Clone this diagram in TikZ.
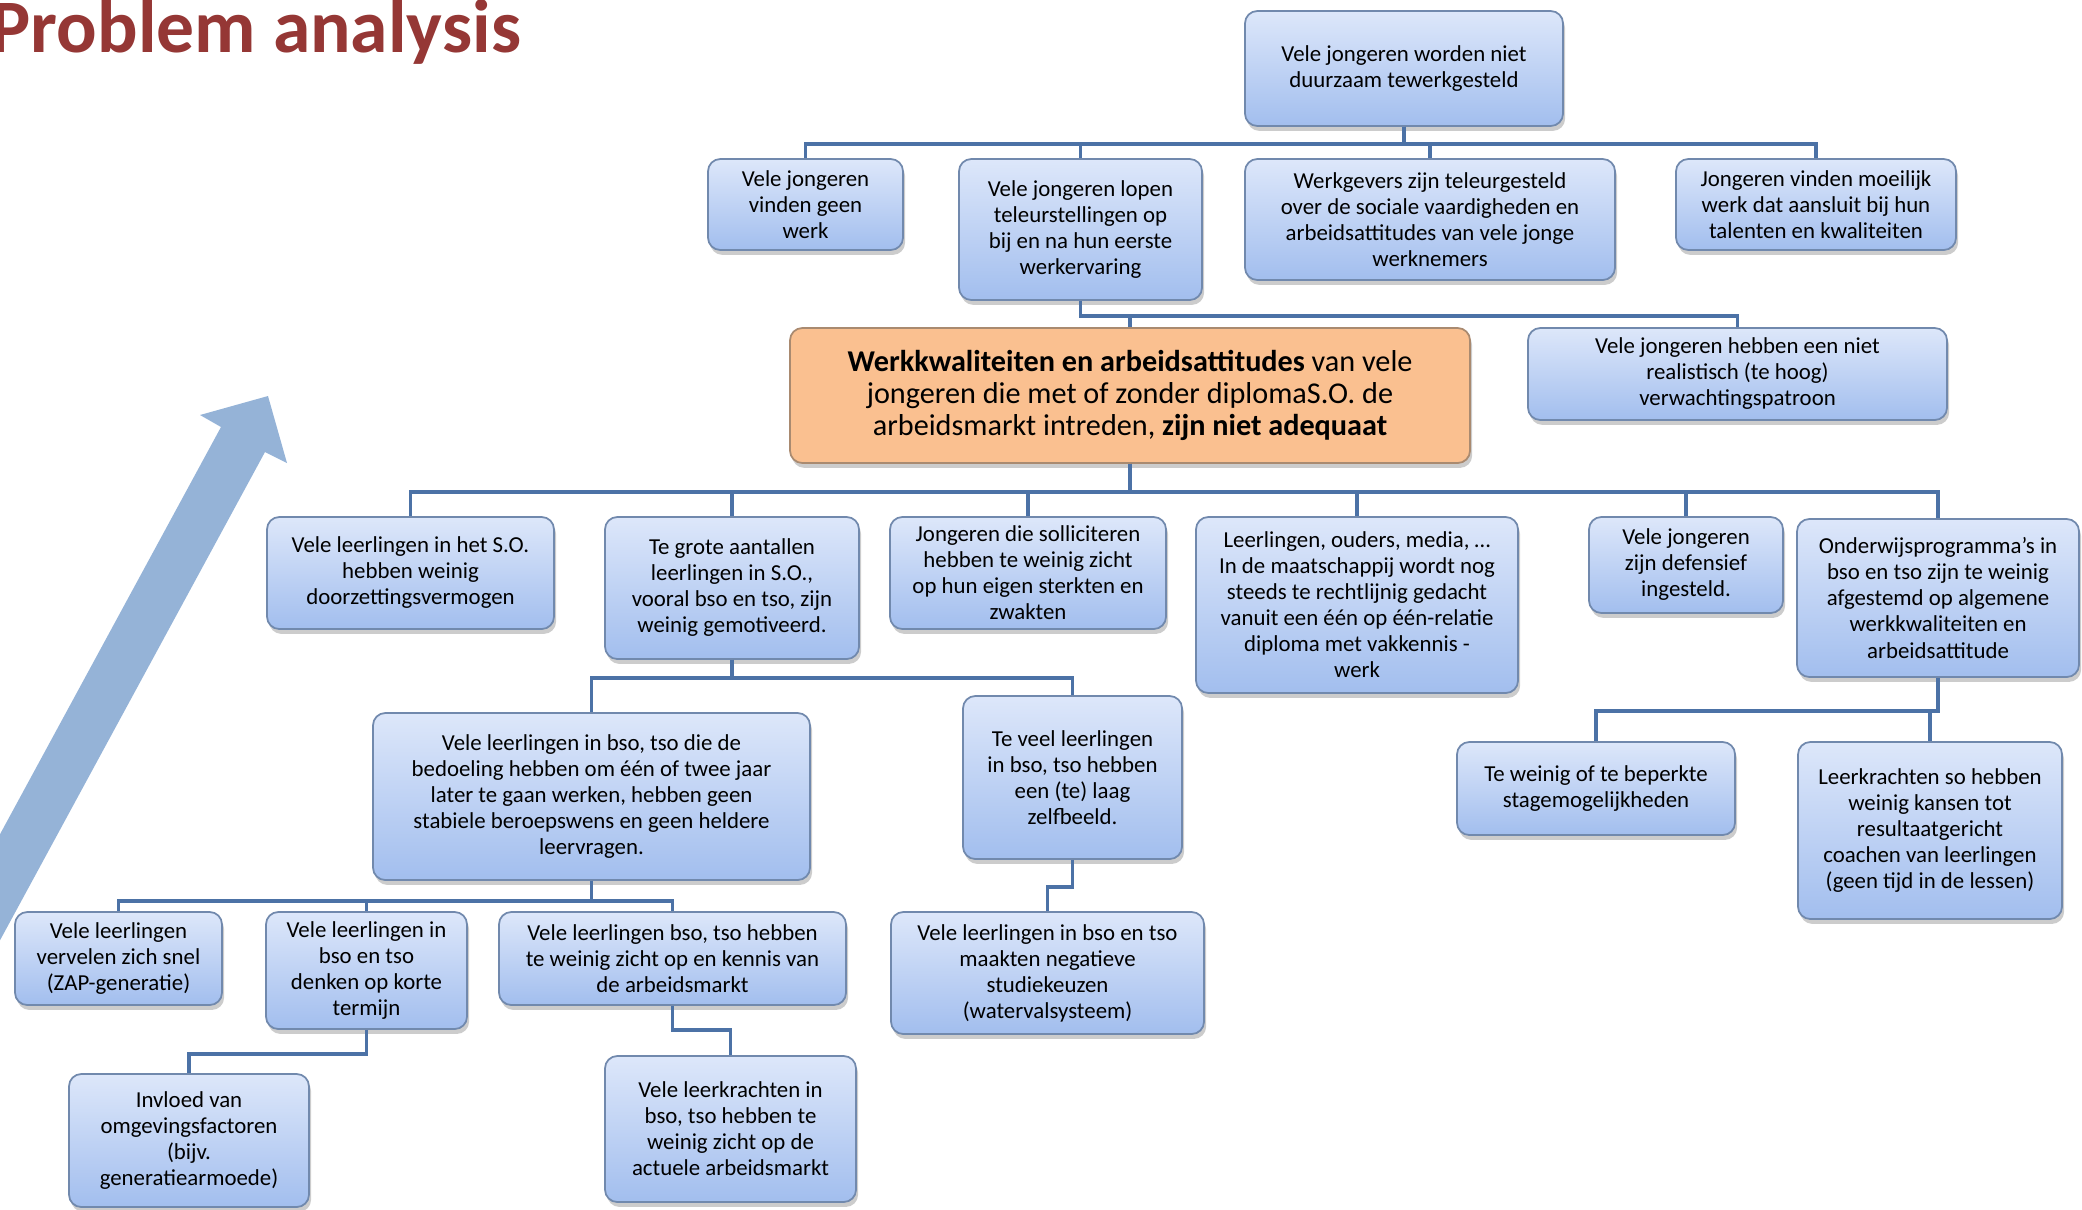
\documentclass[tikz,border=0pt]{standalone}
\usepackage{fontspec}
\setmainfont{Carlito}
\usetikzlibrary{shadows}
\definecolor{titlered}{HTML}{953735}
\definecolor{boxtop}{HTML}{DDE7FA}
\definecolor{boxbot}{HTML}{A2BEEE}
\definecolor{boxline}{HTML}{7189AD}
\definecolor{coreorange}{HTML}{FAC090}
\definecolor{coreline}{HTML}{A98A70}
\definecolor{linkblue}{HTML}{4C72A6}
\definecolor{arrowblue}{HTML}{95B3D7}
\tikzset{
  box/.style={rounded corners=3.5pt, draw=boxline, line width=0.5pt, top color=boxtop, bottom color=boxbot,
    align=center, inner sep=1pt, font=\fontsize{6.5}{7.4}\selectfont,
    drop shadow={shadow xshift=0.6pt, shadow yshift=-1.4pt, opacity=0.4}},
  core/.style={box, top color=coreorange, bottom color=coreorange, draw=coreline, font=\fontsize{8.6}{9.1}\selectfont},
  dims/.style 2 args={minimum width=#1cm, minimum height=#2cm},
  link/.style={draw=linkblue, line width=1.1pt}
}
\begin{document}
\begin{tikzpicture}
    \useasboundingbox (0,0) rectangle (20.82,-12.09);
    \clip (0,0) rectangle (20.82,-12.09);
    % title and big arrow
    \node[anchor=base west, inner sep=0, text=titlered, font=\fontsize{21.5}{24}\selectfont\bfseries] (titel) at (-0.10,-0.52) {Problem analysis};
    \fill[arrowblue] (2.68,-3.96) -- (2.87,-4.63) -- (2.65,-4.52) -- (-0.21,-9.79) -- (-0.65,-9.54) -- (2.21,-4.27) -- (2.00,-4.15) -- cycle;
    % effects
    \node[box, dims={3.18}{1.15}] (duurzaam) at (14.04,-0.685) {Vele jongeren worden niet\\duurzaam tewerkgesteld};
    \node[box, dims={1.95}{0.91}] (geenwerk) at (8.055,-2.045) {Vele jongeren\\vinden geen\\werk};
    \node[box, dims={2.43}{1.41}] (lopen) at (10.805,-2.295) {Vele jongeren lopen\\teleurstellingen op\\bij en na hun eerste\\werkervaring};
    \node[box, dims={3.70}{1.21}] (werkgevers) at (14.30,-2.195) {Werkgevers zijn teleurgesteld\\over de sociale vaardigheden en\\arbeidsattitudes van vele jonge\\werknemers};
    \node[box, dims={2.80}{0.91}] (aansluit) at (18.16,-2.045) {Jongeren vinden moeilijk\\werk dat aansluit bij hun\\talenten en kwaliteiten};
    % core problem
    \node[core, dims={6.80}{1.35}] (kern) at (11.30,-3.955) {\textbf{Werkkwaliteiten en arbeidsattitudes} van vele\\jongeren die met of zonder diplomaS.O. de\\arbeidsmarkt intreden, \textbf{zijn niet adequaat}};
    \node[box, dims={4.19}{0.92}] (verwacht) at (17.375,-3.74) {Vele jongeren hebben een niet\\realistisch (te hoog)\\verwachtingspatroon};
    % causes
    \node[box, dims={2.87}{1.12}] (doorzet) at (4.105,-5.73) {Vele leerlingen in het S.O.\\hebben weinig\\doorzettingsvermogen};
    \node[box, dims={2.54}{1.42}] (motiv) at (7.32,-5.88) {Te grote aantallen\\leerlingen in S.O.,\\vooral bso en tso, zijn\\weinig gemotiveerd.};
    \node[box, dims={2.76}{1.12}] (sollic) at (10.28,-5.73) {Jongeren die solliciteren\\hebben te weinig zicht\\op hun eigen sterkten en\\zwakten};
    \node[box, dims={3.22}{1.76}] (maatsch) at (13.57,-6.05) {Leerlingen, ouders, media, …\\In de maatschappij wordt nog\\steeds te rechtlijnig gedacht\\vanuit een één op één-relatie\\diploma met vakkennis -\\werk};
    \node[box, dims={1.94}{0.96}] (defens) at (16.86,-5.65) {Vele jongeren\\zijn defensief\\ingesteld.};
    \node[box, dims={2.82}{1.58}] (progr) at (19.38,-5.98) {Onderwijsprogramma’s in\\bso en tso zijn te weinig\\afgestemd op algemene\\werkkwaliteiten en\\arbeidsattitude};
    \node[box, dims={4.37}{1.67}] (beroeps) at (5.915,-7.965) {Vele leerlingen in bso, tso die de\\bedoeling hebben om één of twee jaar\\later te gaan werken, hebben geen\\stabiele beroepswens en geen heldere\\leervragen.};
    \node[box, dims={2.19}{1.63}] (zelf) at (10.725,-7.775) {Te veel leerlingen\\in bso, tso hebben\\een (te) laag\\zelfbeeld.};
    \node[box, dims={2.78}{0.93}] (stage) at (15.96,-7.885) {Te weinig of te beperkte\\stagemogelijkheden};
    \node[box, dims={2.64}{1.77}] (coach) at (19.30,-8.305) {Leerkrachten so hebben\\weinig kansen tot\\resultaatgericht\\coachen van leerlingen\\(geen tijd in de lessen)};
    \node[box, dims={2.07}{0.93}] (zap) at (1.185,-9.585) {Vele leerlingen\\vervelen zich snel\\(ZAP-generatie)};
    \node[box, dims={2.01}{1.17}] (kort) at (3.665,-9.705) {Vele leerlingen in\\bso en tso\\denken op korte\\termijn};
    \node[box, dims={3.47}{0.93}] (kennis) at (6.725,-9.585) {Vele leerlingen bso, tso hebben\\te weinig zicht op en kennis van\\de arbeidsmarkt};
    \node[box, dims={3.13}{1.22}] (water) at (10.475,-9.73) {Vele leerlingen in bso en tso\\maakten negatieve\\studiekeuzen\\(watervalsysteem)};
    \node[box, dims={2.40}{1.33}] (omgeving) at (1.89,-11.405) {Invloed van\\omgevingsfactoren\\(bijv.\\generatiearmoede)};
    \node[box, dims={2.51}{1.46}] (leerkr) at (7.305,-11.29) {Vele leerkrachten in\\bso, tso hebben te\\weinig zicht op de\\actuele arbeidsmarkt};
    % connectors
    \foreach \c in {geenwerk,lopen,werkgevers,aansluit}
      \draw[link] (duurzaam.south) -- ++(0,-0.17) -| (\c.north);
    \foreach \c in {kern,verwacht}
      \draw[link] (lopen.south) -- ++(0,-0.15) -| (\c.north);
    \foreach \c in {doorzet,motiv,sollic,maatsch,defens,progr}
      \draw[link] (kern.south) -- ++(0,-0.28) -| (\c.north);
    \foreach \c in {beroeps,zelf}
      \draw[link] (motiv.south) -- ++(0,-0.18) -| (\c.north);
    \foreach \c in {zap,kort,kennis}
      \draw[link] (beroeps.south) -- ++(0,-0.20) -| (\c.north);
    \foreach \c in {stage,coach}
      \draw[link] (progr.south) -- ++(0,-0.33) -| (\c.north);
    \draw[link] (zelf.south) -- ++(0,-0.27) -| (water.north);
    \draw[link] (kort.south) -- ++(0,-0.24) -| (omgeving.north);
    \draw[link] (kennis.south) -- ++(0,-0.24) -| (leerkr.north);
\end{tikzpicture}
\end{document}
